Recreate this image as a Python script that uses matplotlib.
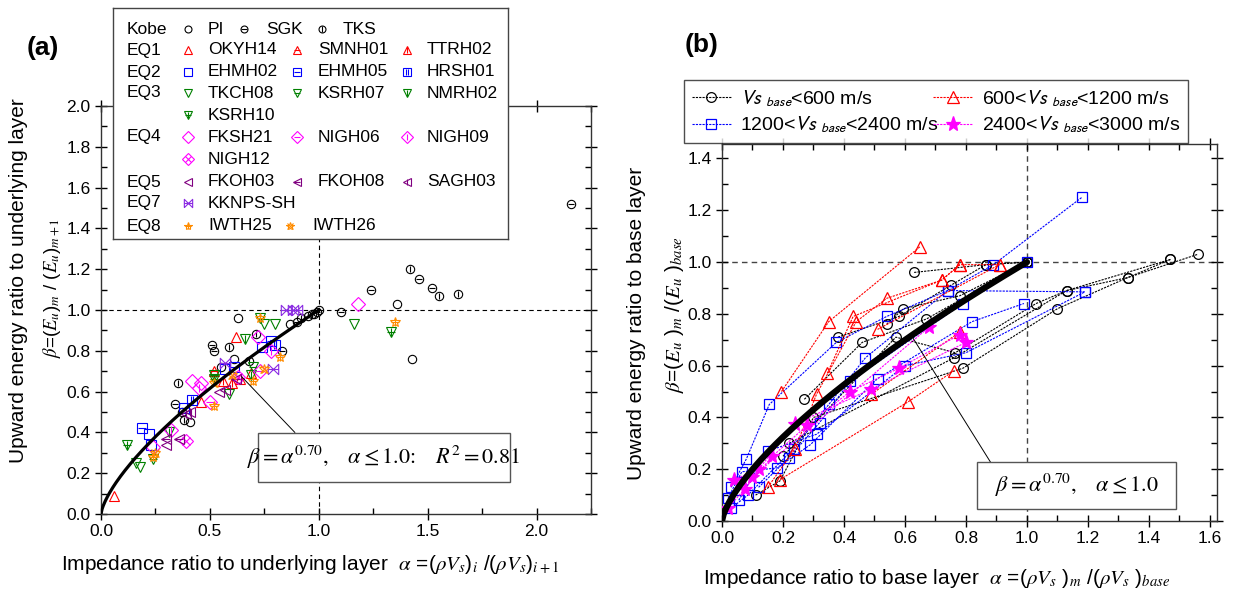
import matplotlib
matplotlib.use("Agg")
import matplotlib.pyplot as plt
from matplotlib.path import Path
from matplotlib.patches import Rectangle
from matplotlib.ticker import MultipleLocator, FormatStrFormatter

plt.rcParams['font.family'] = ['Liberation Sans', 'DejaVu Sans']
plt.rcParams['mathtext.fontset'] = 'stix'

# ---------------- (a) data: (alpha, beta) per station ----------------
PI = [(0.63, 0.96), (1.36, 1.03), (1.43, 0.76), (0.41, 0.45), (0.87, 0.93), (0.98, 0.98),
      (1.0, 1.0), (0.61, 0.76), (0.37, 0.50), (0.55, 0.72), (0.95, 0.97)]
SGK = [(0.51, 0.83), (0.52, 0.80), (0.34, 0.54), (1.24, 1.10), (1.46, 1.15), (1.52, 1.11),
       (1.10, 0.99), (0.83, 0.80), (0.90, 0.94), (2.16, 1.52), (0.99, 0.99)]
TKS = [(1.42, 1.20), (1.55, 1.07), (1.64, 1.08), (0.355, 0.64), (0.59, 0.82), (0.71, 0.88),
       (0.92, 0.96), (0.38, 0.46), (0.68, 0.75), (0.97, 0.98)]
OKYH14 = [(0.06, 0.09), (0.62, 0.87), (0.46, 0.55), (0.69, 0.69)]
SMNH01 = [(0.52, 0.70), (0.64, 0.66)]
TTRH02 = [(0.56, 0.65), (0.60, 0.64)]
EHMH02 = [(0.22, 0.39), (0.23, 0.34), (0.57, 0.71), (0.74, 0.82)]
EHMH05 = [(0.19, 0.42), (0.38, 0.52), (0.61, 0.72), (0.78, 0.85)]
HRSH01 = [(0.42, 0.56), (0.80, 0.83)]
TKCH08 = [(0.18, 0.23), (0.16, 0.25), (0.59, 0.59), (0.75, 0.93), (0.80, 0.93), (1.16, 0.93)]
KSRH07 = [(0.73, 0.96), (0.52, 0.68), (0.70, 0.72), (0.24, 0.27)]
NMRH02 = [(0.66, 0.86), (0.69, 0.68), (0.31, 0.40)]
KSRH10 = [(0.12, 0.34), (1.33, 0.89), (0.52, 0.66)]
FKSH21 = [(0.72, 0.87), (0.42, 0.65), (0.46, 0.64), (1.18, 1.03), (0.24, 0.33)]
NIGH06 = [(0.50, 0.55), (0.73, 0.70)]
NIGH09 = [(0.45, 0.62), (0.32, 0.41), (0.78, 0.80)]
NIGH12 = [(0.39, 0.36), (0.63, 0.67)]
FKOH03 = [(0.54, 0.60), (0.30, 0.34), (0.57, 0.61)]
FKOH08 = [(0.30, 0.37), (0.36, 0.37), (0.62, 0.66)]
SAGH03 = [(0.41, 0.50), (0.39, 0.49)]
KKNPS_SH = [(0.57, 0.74), (0.85, 1.0), (0.90, 1.0), (0.79, 0.71), (0.88, 1.0)]
IWTH25 = [(0.73, 0.96), (0.52, 0.53), (0.24, 0.28), (0.70, 0.65), (0.82, 0.77), (1.35, 0.94)]
IWTH26 = [(0.25, 0.30), (0.52, 0.64), (0.75, 0.71), (0.60, 0.68)]

# ---------------- (b) data: site profiles (alpha, beta) ----------------
vs600 = [
    [(0.27, 0.47), (0.46, 0.69), (0.67, 0.78), (1.0, 1.0)],
    [(0.38, 0.71), (0.58, 0.79), (0.75, 0.91), (0.865, 0.99), (1.0, 1.0)],
    [(0.63, 0.96), (0.865, 0.99), (1.0, 1.0)],
    [(0.54, 0.76), (0.595, 0.82), (0.78, 0.87), (1.0, 1.0)],
    [(0.11, 0.10), (0.19, 0.155), (0.30, 0.40), (0.79, 0.59), (1.10, 0.82), (1.33, 0.94), (1.47, 1.01)],
    [(0.20, 0.25), (0.57, 0.71), (0.765, 0.65), (1.03, 0.84), (1.13, 0.89), (1.33, 0.94), (1.56, 1.03)],
    [(0.22, 0.30), (0.76, 0.63), (1.13, 0.89), (1.47, 1.01)],
]
vs1200 = [
    [(0.195, 0.50), (0.35, 0.77), (0.65, 1.06)],
    [(0.15, 0.13), (0.24, 0.28), (0.31, 0.49), (0.44, 0.77), (0.54, 0.86), (0.72, 0.93), (0.78, 0.99), (0.91, 0.99)],
    [(0.19, 0.16), (0.61, 0.46), (0.76, 0.58)],
    [(0.345, 0.57), (0.43, 0.79), (0.72, 0.93), (0.78, 0.99)],
    [(0.49, 0.49), (0.78, 0.73)],
    [(0.51, 0.74), (0.91, 0.99)],
]
vs2400 = [
    [(0.03, 0.13), (0.08, 0.24), (0.155, 0.45), (0.375, 0.69), (0.54, 0.79), (0.74, 0.89), (0.89, 0.99), (1.18, 1.25)],
    [(0.02, 0.09), (0.065, 0.19), (0.18, 0.205), (0.29, 0.295), (0.51, 0.55), (0.82, 0.77), (0.99, 0.84)],
    [(0.03, 0.05), (0.085, 0.10), (0.235, 0.28), (0.35, 0.45), (0.47, 0.63), (0.74, 0.89), (1.19, 0.885)],
    [(0.055, 0.08), (0.15, 0.27), (0.31, 0.335), (0.60, 0.60), (0.80, 0.65), (1.19, 0.885)],
    [(0.12, 0.13), (0.22, 0.245), (0.32, 0.38), (0.42, 0.54), (0.79, 0.84), (1.0, 1.0)],
]
vs3000 = [
    [(0.02, 0.05), (0.075, 0.125), (0.165, 0.25), (0.28, 0.37), (0.42, 0.50), (0.58, 0.59), (0.78, 0.72)],
    [(0.04, 0.16), (0.12, 0.20), (0.24, 0.375), (0.49, 0.51), (0.80, 0.69)],
    [(0.10, 0.17), (0.68, 0.75)],
]

fit_exp = 0.70

# custom markers
m_ii = Path([(-0.3, -1), (-0.3, 1), (0.3, -1), (0.3, 1)],
            [Path.MOVETO, Path.LINETO, Path.MOVETO, Path.LINETO])
m_bow = Path([(-1, -1), (1, 1), (1, -1), (-1, 1), (-1, -1), (-1, 0), (1, 0)],
             [Path.MOVETO, Path.LINETO, Path.LINETO, Path.LINETO, Path.LINETO, Path.MOVETO, Path.LINETO])

RED, BLUE, GREEN, MAG, PUR, VIO, ORA = '#FF0000', '#0000FF', '#008000', '#FF00FF', '#800080', '#8A2BE2', '#FF8C00'

legend_rows = [
    ('Kobe', [('PI', PI, 'k', 'o', None), ('SGK', SGK, 'k', 'o', '_'), ('TKS', TKS, 'k', 'o', '|')]),
    ('EQ1', [('OKYH14', OKYH14, RED, '^', None), ('SMNH01', SMNH01, RED, '^', '_'), ('TTRH02', TTRH02, RED, '^', '|')]),
    ('EQ2', [('EHMH02', EHMH02, BLUE, 's', None), ('EHMH05', EHMH05, BLUE, 's', '_'), ('HRSH01', HRSH01, BLUE, 's', m_ii)]),
    ('EQ3', [('TKCH08', TKCH08, GREEN, 'v', None), ('KSRH07', KSRH07, GREEN, 'v', '_'), ('NMRH02', NMRH02, GREEN, 'v', '|')]),
    ('', [('KSRH10', KSRH10, GREEN, 'v', '+')]),
    ('EQ4', [('FKSH21', FKSH21, MAG, 'D', None), ('NIGH06', NIGH06, MAG, 'D', '_'), ('NIGH09', NIGH09, MAG, 'D', '|')]),
    ('', [('NIGH12', NIGH12, MAG, 'D', 'x')]),
    ('EQ5', [('FKOH03', FKOH03, PUR, '<', None), ('FKOH08', FKOH08, PUR, '<', '_'), ('SAGH03', SAGH03, PUR, '<', '|')]),
    ('EQ7', [('KKNPS-SH', KKNPS_SH, VIO, m_bow, None)]),
    ('EQ8', [('IWTH25', IWTH25, ORA, '*', '+'), ('IWTH26', IWTH26, ORA, '*', 'x')]),
]


def draw_marker(ax, xs, ys, color, base, over, ms, z=3):
    ax.plot(xs, ys, ls='none', marker=base, mfc='none', mec=color, ms=ms, mew=0.8, zorder=z)
    if over is not None:
        ax.plot(xs, ys, ls='none', marker=over, mfc='none', mec=color, ms=ms * 0.75, mew=0.8, zorder=z)


def style_axes(ax):
    ax.tick_params(which='major', direction='inout', length=8, width=1, labelsize=12.5,
                   top=True, right=True)
    ax.tick_params(which='minor', direction='in', length=4, width=1, top=True, right=True)
    for s in ax.spines.values():
        s.set_linewidth(1.0)
        s.set_color('#333333')


fig = plt.figure(figsize=(12.42, 5.94), dpi=100)
W, H = 1242.0, 594.0

# ---------------- panel (a) ----------------
ax1 = fig.add_axes([101 / W, 1 - 514 / H, 490 / W, 408 / H])
ax1.set_xlim(0, 2.25)
ax1.set_ylim(0, 2.0)
ax1.xaxis.set_major_locator(MultipleLocator(0.5))
ax1.xaxis.set_minor_locator(MultipleLocator(0.25))
ax1.yaxis.set_major_locator(MultipleLocator(0.2))
ax1.yaxis.set_minor_locator(MultipleLocator(0.1))
ax1.xaxis.set_major_formatter(FormatStrFormatter('%.1f'))
ax1.yaxis.set_major_formatter(FormatStrFormatter('%.1f'))
style_axes(ax1)
ax1.axhline(1.0, color='k', ls='--', lw=0.8, dashes=(4, 3), zorder=1)
ax1.axvline(1.0, color='k', ls='--', lw=0.8, dashes=(4, 3), zorder=1)

for grp, entries in legend_rows:
    for name, pts, col, base, over in entries:
        xs = [p[0] for p in pts]
        ys = [p[1] for p in pts]
        ms = 6 if base == 'o' else 7.5
        draw_marker(ax1, xs, ys, col, base, over, ms)

a = [i / 200 for i in range(201)]
ax1.plot(a, [v ** fit_exp for v in a], color='k', lw=2.3, zorder=4)
ax1.plot([0.646, 0.89], [0.673, 0.40], color='k', lw=0.7, zorder=4)
ax1.add_patch(Rectangle((0.72, 0.158), 1.157, 0.24, fc='white', ec='#555555', lw=1, zorder=5))
ax1.text(1.30, 0.278, r'$\beta = \alpha^{0.70},\quad \alpha \leq 1.0\!:\quad R^2 = 0.81$',
         ha='center', va='center', fontsize=16, zorder=6)

# legend for (a), drawn in pixel coordinates
lg = fig.add_axes([113 / W, 1 - 239 / H, 395 / W, 231 / H], zorder=10)
lg.set_xlim(113, 508)
lg.set_ylim(239, 8)
lg.set_xticks([])
lg.set_yticks([])
for s in lg.spines.values():
    s.set_linewidth(1.0)
    s.set_color('#444444')
row_y = [29, 50, 72, 93, 115, 137, 159, 182, 203, 226]
for (grp, entries), yy in zip(legend_rows, row_y):
    if grp:
        lg.text(127, yy, grp, ha='left', va='center', fontsize=12.5)
    if grp == 'Kobe':
        mx, tx = [188, 244, 322], [208, 266, 343]
    elif grp == 'EQ8':
        mx, tx = [188, 290], [208, 312]
    else:
        mx, tx = [188, 297, 407], [208, 318, 427]
    for (name, pts, col, base, over), x0, t0 in zip(entries, mx, tx):
        draw_marker(lg, [x0], [yy], col, base, over, 5 if base == 'o' else 6)
        lg.text(t0, yy, name, ha='left', va='center', fontsize=12.5)

fig.text(43 / W, 1 - 48 / H, '(a)', fontsize=19, fontweight='bold', ha='center', va='center')
fig.text(19 / W, 1 - 281 / H, 'Upward energy ratio to underlying layer', rotation=90,
         ha='center', va='center', fontsize=15)
fig.text(52 / W, 1 - 288 / H, r'$\beta$=($E_u$)$_m$ / ($E_u$)$_{m+1}$', rotation=90,
         ha='center', va='center', fontsize=13.5)
fig.text(61 / W, 1 - 565 / H,
         r'Impedance ratio to underlying layer  $\alpha$ =($\rho V_s$)$_i$ /($\rho V_s$)$_{i+1}$',
         ha='left', va='center', fontsize=15)

# ---------------- panel (b) ----------------
ax2 = fig.add_axes([722 / W, 1 - 521 / H, 495 / W, 377 / H])
ax2.set_xlim(0, 1.623)
ax2.set_ylim(0, 1.456)
ax2.xaxis.set_major_locator(MultipleLocator(0.2))
ax2.xaxis.set_minor_locator(MultipleLocator(0.1))
ax2.yaxis.set_major_locator(MultipleLocator(0.2))
ax2.yaxis.set_minor_locator(MultipleLocator(0.1))
ax2.xaxis.set_major_formatter(FormatStrFormatter('%.1f'))
ax2.yaxis.set_major_formatter(FormatStrFormatter('%.1f'))
style_axes(ax2)
ax2.axhline(1.0, color='#444444', ls='--', lw=1.0, dashes=(4, 3), zorder=1)
ax2.axvline(1.0, color='#444444', ls='--', lw=1.0, dashes=(4, 3), zorder=1)

groups = [
    (vs600, 'k', 'o', 7, r'$Vs$ $_{base}$<600 m/s'),
    (vs2400, BLUE, 's', 6.5, r'1200<$Vs$ $_{base}$<2400 m/s'),
    (vs1200, RED, '^', 8, r'600<$Vs$ $_{base}$<1200 m/s'),
    (vs3000, MAG, '*', 11, r'2400<$Vs$ $_{base}$<3000 m/s'),
]
handles = []
for profiles, col, mk, ms, lab in groups:
    for prof in profiles:
        xs = [p[0] for p in prof]
        ys = [p[1] for p in prof]
        filled = col if mk == '*' else 'none'
        h, = ax2.plot(xs, ys, color=col, lw=0.8, ls=(0, (2, 1)), marker=mk, ms=ms,
                      mfc=filled, mec=col, mew=0.9, zorder=3)
    handles.append((h, lab))

b = [i / 200 for i in range(201)]
ax2.plot(b, [v ** fit_exp for v in b], color='k', lw=4.5, zorder=4, solid_capstyle='round')
ax2.plot([0.62, 0.88], [0.718, 0.228], color='k', lw=0.7, zorder=4)
ax2.add_patch(Rectangle((0.836, 0.045), 0.654, 0.183, fc='white', ec='#555555', lw=1, zorder=5))
ax2.text(1.163, 0.137, r'$\beta = \alpha^{0.70},\quad \alpha \leq 1.0$',
         ha='center', va='center', fontsize=16, zorder=6)

leg = fig.legend([h for h, _ in handles], [l for _, l in handles], ncol=2,
                 loc='lower left', mode='expand',
                 bbox_to_anchor=(684 / W, 1 - 143 / H, 504 / W, 69 / H),
                 bbox_transform=fig.transFigure, frameon=True, fancybox=False,
                 edgecolor='#222222', fontsize=14, handlelength=2.0, borderaxespad=0,
                 columnspacing=1.0, labelspacing=0.3, handletextpad=0.5)
leg.get_frame().set_linewidth(1.0)
for t in leg.get_texts():
    t.set_math_fontfamily('stixsans')

fig.text(702 / W, 1 - 45 / H, '(b)', fontsize=19, fontweight='bold', ha='center', va='center')
fig.text(636 / W, 1 - 323 / H, 'Upward energy ratio to base layer', rotation=90,
         ha='center', va='center', fontsize=15)
fig.text(675 / W, 1 - 315 / H, r'$\beta$=($E_u$ )$_m$ /($E_u$ )$_{base}$', rotation=90,
         ha='center', va='center', fontsize=15)
fig.text(703 / W, 1 - 578 / H,
         r'Impedance ratio to base layer  $\alpha$ =($\rho V_s$ )$_m$ /($\rho V_s$ )$_{base}$',
         ha='left', va='center', fontsize=15)

fig.savefig('out.png', dpi=100)
